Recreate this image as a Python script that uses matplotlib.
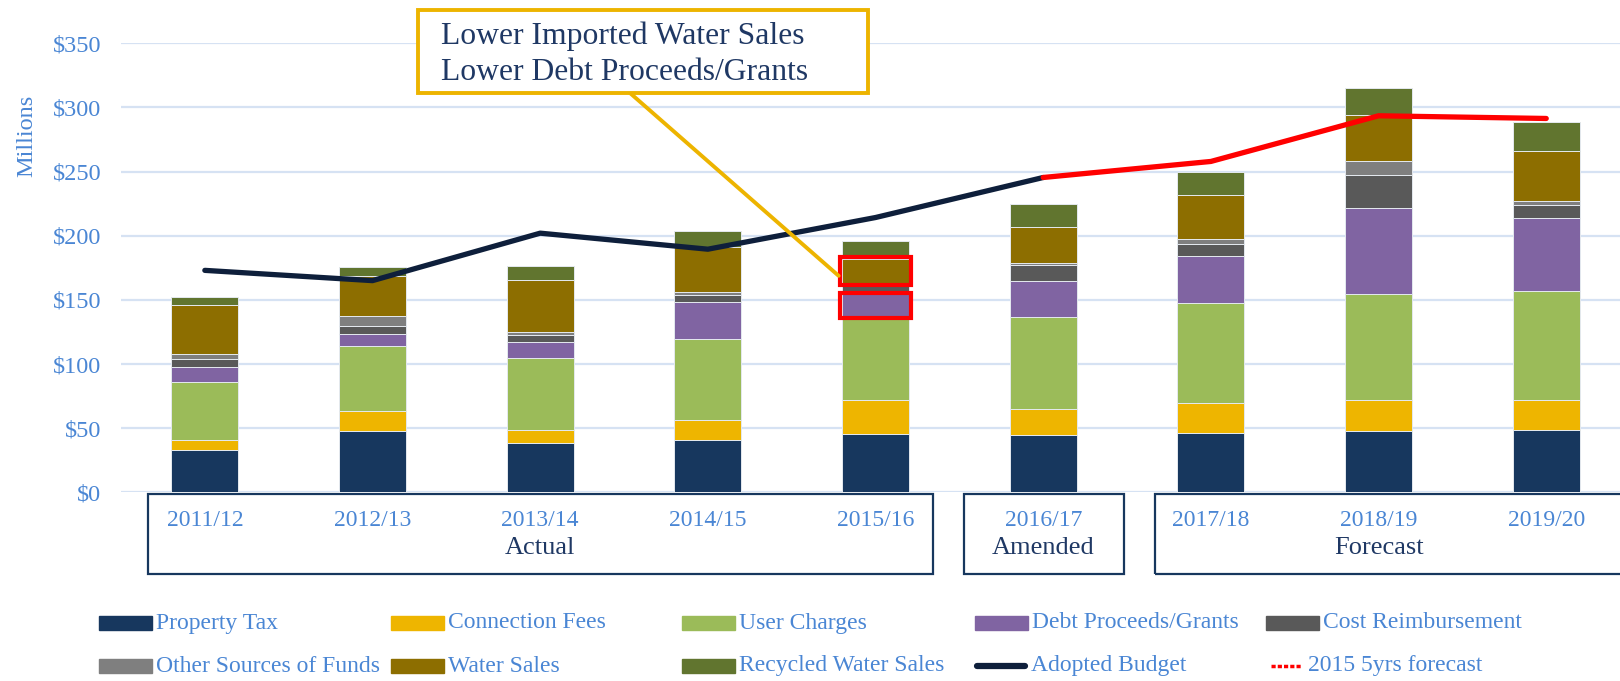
"""Stacked sources-of-funds chart with adopted budget and 2015 forecast lines."""

import matplotlib

matplotlib.use("Agg")
import matplotlib.pyplot as plt
from matplotlib.lines import Line2D
from matplotlib.patches import ConnectionPatch, Rectangle

plt.rcParams["font.family"] = ["Liberation Serif", "DejaVu Serif"]

# ---- data (millions of dollars) ----
years = ["2011/12", "2012/13", "2013/14", "2014/15", "2015/16",
         "2016/17", "2017/18", "2018/19", "2019/20"]

property_tax = [32.8, 48.1, 38.7, 41.0, 45.7, 44.7, 46.3, 47.6, 48.6]
connection_fees = [7.8, 15.1, 9.9, 15.2, 26.1, 20.3, 23.4, 24.4, 23.2]
user_charges = [45.7, 50.9, 55.9, 63.4, 65.2, 72.0, 77.7, 82.9, 85.2]
debt_proceeds = [11.4, 9.1, 12.5, 28.8, 17.4, 28.1, 36.7, 66.6, 57.0]
cost_reimbursement = [6.0, 6.8, 5.9, 5.5, 6.6, 11.7, 9.8, 25.8, 10.3]
other_sources = [4.2, 7.8, 2.1, 2.6, 2.0, 1.8, 3.4, 10.9, 2.9]
water_sales = [38.1, 30.7, 40.4, 34.6, 19.2, 28.3, 34.4, 35.9, 38.8]
recycled_water = [6.3, 7.5, 11.1, 12.4, 13.8, 18.0, 17.9, 21.3, 22.8]

adopted_budget = [173.0, 165.0, 202.0, 189.5, 214.2, 245.4]
forecast_2015 = [245.4, 257.9, 293.5, 291.4]

groups = ["Actual", "Amended", "Forecast"]
group_spans = [(0, 4), (5, 5), (6, 8)]

series = [
    ("Property Tax", property_tax, "#17375E"),
    ("Connection Fees", connection_fees, "#EEB500"),
    ("User Charges", user_charges, "#9BBB59"),
    ("Debt Proceeds/Grants", debt_proceeds, "#8064A2"),
    ("Cost Reimbursement", cost_reimbursement, "#595959"),
    ("Other Sources of Funds", other_sources, "#7F7F7F"),
    ("Water Sales", water_sales, "#8D6E00"),
    ("Recycled Water Sales", recycled_water, "#61752F"),
]

BLUE_TXT = "#4A86D4"
NAVY_TXT = "#1F3864"
LINE_NAVY = "#0E1F3B"
GOLD = "#EDB400"

W, H = 1620, 681
fig = plt.figure(figsize=(W / 100, H / 100), dpi=100)
ax = fig.add_axes([121 / W, 1 - 492.3 / H, 1499 / W, 449 / H])

x = list(range(len(years)))
bottom = [0.0] * len(years)
bottoms = {}
for name, vals, color in series:
    bottoms[name] = list(bottom)
    ax.bar(x, vals, 0.4, bottom=bottom, color=color,
           edgecolor="#E4E9EF", linewidth=0.7, zorder=2)
    bottom = [b + v for b, v in zip(bottom, vals)]

# budget lines
ax.plot(x[:len(adopted_budget)], adopted_budget, color=LINE_NAVY, lw=3.8,
        solid_capstyle="round", solid_joinstyle="round", zorder=3)
ax.plot(x[len(adopted_budget) - 1:], forecast_2015, color="#FF0000", lw=3.8,
        solid_capstyle="round", solid_joinstyle="round", zorder=3)

ax.set_xlim(-0.5, 8.44)
ax.set_ylim(0, 350)
ax.set_yticks(range(0, 351, 50))
ax.set_yticklabels([f"${v}" for v in range(0, 351, 50)])
ax.yaxis.grid(True, color="#D6E2F3", lw=1.6)
ax.set_axisbelow(True)
for s in ax.spines.values():
    s.set_visible(False)
ax.tick_params(axis="y", length=0, pad=14, labelsize=17.5, labelcolor=BLUE_TXT)
ax.set_xticks(x)
ax.set_xticklabels(years)
ax.tick_params(axis="x", length=0, pad=13, labelsize=17, labelcolor=BLUE_TXT)

fig.text(27 / W, 1 - 136 / H, "Millions", rotation=90, ha="center",
         va="center", fontsize=17.5, color=BLUE_TXT)

# category group boxes under the axis
pads = [(0.34, 0.34), (0.475, 0.48), (0.335, 0.45)]
for label, (a, b), (pl, pr) in zip(groups, group_spans, pads):
    trans = ax.get_xaxis_transform()
    ax.add_patch(Rectangle((a - pl, -0.183), (b + pr) - (a - pl), 0.18,
                           transform=trans, fill=False, ec="#17375E", lw=1.6,
                           clip_on=False, zorder=5))
    ax.text((a + b) / 2, -0.125, label, transform=trans, ha="center",
            va="center", fontsize=19, color=NAVY_TXT)

# highlight boxes on 2015/16
i = 4
for name, vals in [("Water Sales", water_sales),
                   ("Debt Proceeds/Grants", debt_proceeds)]:
    b0 = bottoms[name][i]
    ax.add_patch(Rectangle((i - 0.21, b0 - 1.2), 0.42, vals[i] + 2.4,
                           fill=False, ec="#FF0000", lw=3, zorder=4))

# callout
fig.add_artist(Rectangle((418 / W, 1 - 93 / H), 450 / W, 83 / H,
                         transform=fig.transFigure, fc="white", ec=GOLD,
                         lw=2.8, zorder=6))
fig.text(441 / W, 1 - 54 / H,
         "Lower Imported Water Sales\nLower Debt Proceeds/Grants",
         ha="left", va="center", fontsize=22.8, color=NAVY_TXT,
         linespacing=1.3, zorder=7)
water_mid = bottoms["Water Sales"][i] + water_sales[i] * 0.3
fig.add_artist(ConnectionPatch(xyA=(630 / W, 1 - 93 / H), coordsA=fig.transFigure,
                               xyB=(i - 0.22, water_mid), coordsB=ax.transData,
                               color=GOLD, lw=2.8, zorder=5))

# legend drawn by hand to keep even columns
col_x = [99, 391, 682, 975, 1266]
row_y = [623, 666]
entries = [(name, "patch", color) for name, _, color in series]
entries += [("Adopted Budget", "line", LINE_NAVY),
            ("2015 5yrs forecast", "dash", "#FF0000")]
for k, (name, kind, color) in enumerate(entries):
    px = col_x[k % 5]
    py = 1 - row_y[k // 5] / H
    if kind == "patch":
        fig.add_artist(Rectangle((px / W, py - 7 / H), 53 / W, 14 / H,
                                 transform=fig.transFigure, color=color))
        tx = px + 57
    elif kind == "line":
        fig.add_artist(Line2D([(px + 2) / W, (px + 50) / W], [py, py],
                              transform=fig.transFigure, color=color, lw=4.5,
                              solid_capstyle="round"))
        tx = px + 56
    else:
        fig.add_artist(Line2D([(px + 5) / W, (px + 36) / W], [py, py],
                              transform=fig.transFigure, color=color, lw=2.5,
                              linestyle=(0, (1.2, 0.6))))
        tx = px + 42
    fig.text(tx / W, py, name, ha="left", va="center", fontsize=17,
             color=BLUE_TXT)

fig.savefig("out.png", dpi=100)
